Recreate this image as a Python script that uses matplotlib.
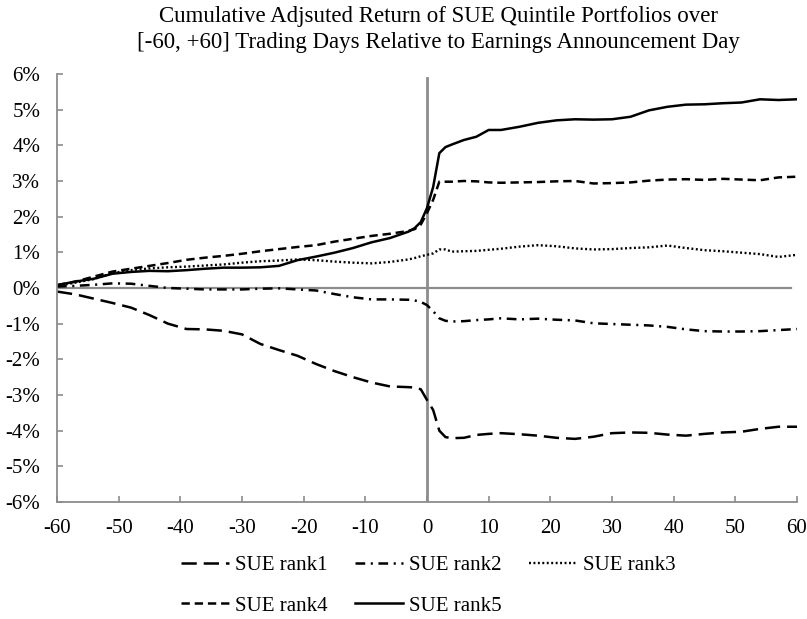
import matplotlib
matplotlib.use("Agg")
import matplotlib.pyplot as plt
from matplotlib.ticker import FuncFormatter

plt.rcParams['font.family'] = ['Liberation Serif', 'DejaVu Serif']
plt.rcParams['lines.scale_dashes'] = False
plt.rcParams['axes.unicode_minus'] = False

# event days relative to the earnings announcement
days = [-60, -57, -54, -51, -48, -45, -42, -39, -36, -33, -30, -27, -24, -21, -18, -15,
        -12, -9, -6, -3, -2, -1, 0, 1, 2, 3, 4, 6, 8, 10, 12, 15, 18, 21, 24, 27, 30,
        33, 36, 39, 42, 45, 48, 51, 54, 57, 60]

# cumulative adjusted return, in percent
rank1 = [-0.10, -0.18, -0.30, -0.42, -0.55, -0.76, -1.00, -1.15, -1.16, -1.20, -1.30, -1.57,
         -1.74, -1.90, -2.13, -2.33, -2.50, -2.65, -2.76, -2.78, -2.79, -2.84, -3.14, -3.42,
         -4.00, -4.18, -4.21, -4.20, -4.12, -4.09, -4.07, -4.10, -4.14, -4.20, -4.23, -4.17,
         -4.07, -4.05, -4.06, -4.11, -4.14, -4.09, -4.05, -4.03, -3.95, -3.89, -3.89]
rank2 = [0.04, 0.06, 0.09, 0.13, 0.12, 0.06, 0.00, -0.02, -0.04, -0.04, -0.04, -0.02,
         -0.01, -0.04, -0.07, -0.17, -0.26, -0.32, -0.32, -0.33, -0.35, -0.39, -0.48, -0.65,
         -0.85, -0.92, -0.94, -0.93, -0.90, -0.88, -0.85, -0.88, -0.86, -0.89, -0.91, -0.99,
         -1.01, -1.03, -1.05, -1.09, -1.16, -1.21, -1.22, -1.22, -1.21, -1.18, -1.15]
rank3 = [0.06, 0.15, 0.25, 0.42, 0.50, 0.55, 0.58, 0.60, 0.63, 0.66, 0.71, 0.75,
         0.77, 0.80, 0.78, 0.74, 0.71, 0.69, 0.73, 0.80, 0.84, 0.89, 0.93, 0.97,
         1.08, 1.08, 1.02, 1.03, 1.04, 1.07, 1.10, 1.16, 1.20, 1.17, 1.11, 1.08,
         1.09, 1.12, 1.14, 1.19, 1.12, 1.06, 1.03, 0.99, 0.95, 0.87, 0.93]
rank4 = [0.08, 0.18, 0.32, 0.46, 0.54, 0.62, 0.70, 0.79, 0.85, 0.90, 0.96, 1.03,
         1.09, 1.15, 1.20, 1.30, 1.38, 1.46, 1.52, 1.60, 1.65, 1.78, 2.10, 2.47,
         2.98, 2.98, 2.98, 3.00, 2.99, 2.96, 2.95, 2.96, 2.97, 2.99, 3.00, 2.93,
         2.94, 2.96, 3.01, 3.04, 3.05, 3.03, 3.06, 3.04, 3.02, 3.10, 3.12]
rank5 = [0.08, 0.18, 0.26, 0.40, 0.45, 0.48, 0.47, 0.50, 0.54, 0.57, 0.57, 0.58,
         0.62, 0.78, 0.88, 0.99, 1.12, 1.28, 1.40, 1.58, 1.68, 1.85, 2.24, 2.83,
         3.78, 3.95, 4.02, 4.15, 4.24, 4.43, 4.43, 4.52, 4.63, 4.70, 4.73, 4.72,
         4.73, 4.80, 4.98, 5.08, 5.14, 5.15, 5.18, 5.20, 5.29, 5.27, 5.29]

labels = ['SUE rank1', 'SUE rank2', 'SUE rank3', 'SUE rank4', 'SUE rank5']

fig = plt.figure(figsize=(8.07, 6.19), dpi=100)
ax = fig.add_axes([0.0706, 0.189, 0.917, 0.6915])

gray = '#8c8c8c'
ax.plot([-60, 59], [0, 0], color=gray, lw=1.6, zorder=1)
ax.axvline(0, ymin=0, ymax=0.99, color=gray, lw=2.0, zorder=1)

l1, = ax.plot(days, rank1, color='black', lw=1.8, ls=(0, (11, 5)), label=labels[0])
l2, = ax.plot(days, rank2, color='black', lw=1.8, ls=(0, (7, 4, 1.5, 4)), label=labels[1])
l3, = ax.plot(days, rank3, color='black', lw=1.7, ls=(0, (1.4, 1.8)), label=labels[2])
l4, = ax.plot(days, rank4, color='black', lw=1.8, ls=(0, (6, 3.5)), label=labels[3])
l5, = ax.plot(days, rank5, color='black', lw=1.8, ls='-', label=labels[4])

ax.set_xlim(-60, 60)
ax.set_ylim(-6, 6)
ax.set_xticks(range(-60, 61, 10))
ax.set_yticks(range(-6, 7, 1))
ax.yaxis.set_major_formatter(FuncFormatter(lambda v, p: '%d%%' % v))

for s in ['top', 'right']:
    ax.spines[s].set_visible(False)
for s in ['left', 'bottom']:
    ax.spines[s].set_color(gray)
    ax.spines[s].set_linewidth(1.3)
ax.tick_params(direction='in', length=4, color=gray, width=1.2, labelsize=15)
ax.tick_params(axis='y', pad=12)
ax.tick_params(axis='x', pad=12)

fig.text(0.543, 0.953,
         'Cumulative Adjsuted Return of SUE Quintile Portfolios over\n'
         '[-60, +60] Trading Days Relative to Earnings Announcement Day',
         ha='center', va='center', fontsize=16.5, linespacing=1.32)

# column-major order so rows read rank1..rank3 / rank4, rank5
hs = [l1, l4, l2, l5, l3]
fig.legend(hs, [h.get_label() for h in hs], ncol=3, loc='center',
           bbox_to_anchor=(0.531, 0.054), frameon=False, fontsize=15,
           handlelength=2.3, handletextpad=0.3, columnspacing=1.3,
           labelspacing=1.0)

fig.savefig('out.png', dpi=100)
